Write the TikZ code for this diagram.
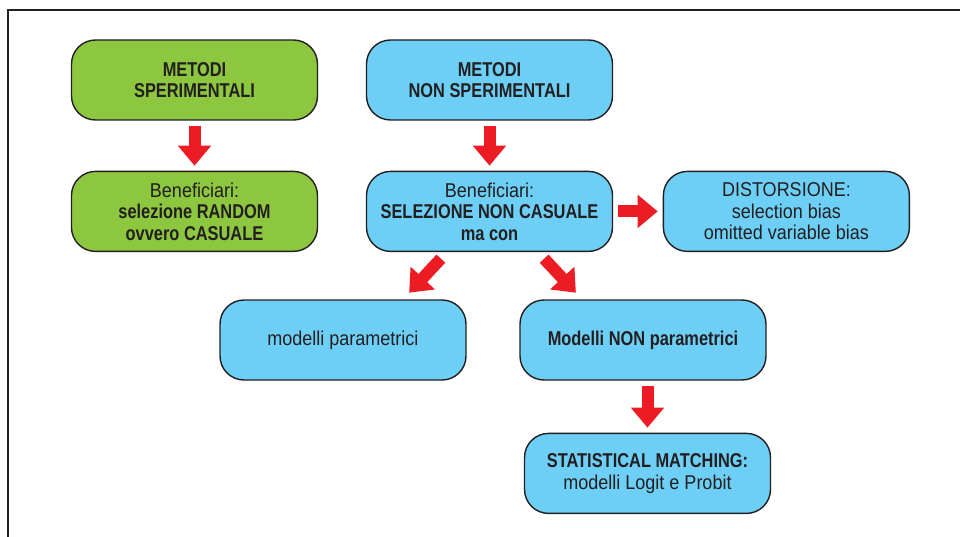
\documentclass[tikz,border=0pt]{standalone}
\usepackage{fontspec}
\setmainfont{Liberation Sans}[FakeStretch=0.9, BoldFeatures={FakeStretch=0.82}]
\usetikzlibrary{arrows.meta,positioning}
\definecolor{SperGreen}{HTML}{8DC63F}
\definecolor{NonSperBlue}{HTML}{6DCFF5}
\definecolor{ArrowRed}{HTML}{ED1C24}
\definecolor{InkGray}{HTML}{231F20}
\tikzset{
  block/.style={
    draw=InkGray,
    line width=1.4pt,
    rounded corners=24pt,
    minimum width=246pt,
    minimum height=80pt,
    inner sep=0pt,
    align=center,
    text=InkGray,
    font=\fontsize{20}{21.5}\selectfont
  },
  greenblock/.style={block, fill=SperGreen},
  blueblock/.style={block, fill=NonSperBlue},
  flowarrow/.style={
    -{Triangle[width=32pt,length=20pt]},
    line width=12pt,
    draw=ArrowRed,
    shorten <=5pt,
    shorten >=5pt
  },
  slantarrow/.style={flowarrow, shorten <=9pt, shorten >=9pt}
}
\begin{document}
\begin{tikzpicture}[x=1pt, y=-1pt, node distance=50pt and 49.5pt]
\useasboundingbox (0,0) rectangle (960,537);
% frame
\draw[InkGray, line width=1.6pt] (8,537) -- (8,10) -- (960,10);

\node[greenblock] (sperim) at (194.5,80) {\textbf{METODI}\\\textbf{SPERIMENTALI}};
\node[greenblock, below=of sperim] (casuale) {Beneficiari:\\\textbf{selezione RANDOM}\\\textbf{ovvero CASUALE}};
\node[blueblock] (nonsperim) at (489.5,80) {\textbf{METODI}\\\textbf{NON SPERIMENTALI}};
\node[blueblock, below=of nonsperim] (noncasuale) {Beneficiari:\\\textbf{SELEZIONE NON CASUALE}\\\textbf{ma con}};
\node[blueblock, right=of noncasuale] (distorsione) {DISTORSIONE:\\selection bias\\omitted variable bias};
\node[blueblock] (param) at (343,340) {modelli parametrici};
\node[blueblock] (nonparam) at (643,340) {\textbf{Modelli NON parametrici}};
\node[blueblock, below=52pt of nonparam, xshift=4.5pt] (matching) {\textbf{STATISTICAL MATCHING:}\\modelli Logit e Probit};

\draw[flowarrow] (sperim) -- (casuale);
\draw[flowarrow] (nonsperim) -- (noncasuale);
\draw[flowarrow] (noncasuale) -- (distorsione);
\draw[slantarrow] ([xshift=-42.5pt]noncasuale.south) -- ([xshift=60pt]param.north);
\draw[slantarrow] ([xshift=48.5pt]noncasuale.south) -- ([xshift=-61pt]nonparam.north);
\draw[flowarrow] ([xshift=4.5pt]nonparam.south) -- (matching.north);
\end{tikzpicture}
\end{document}
